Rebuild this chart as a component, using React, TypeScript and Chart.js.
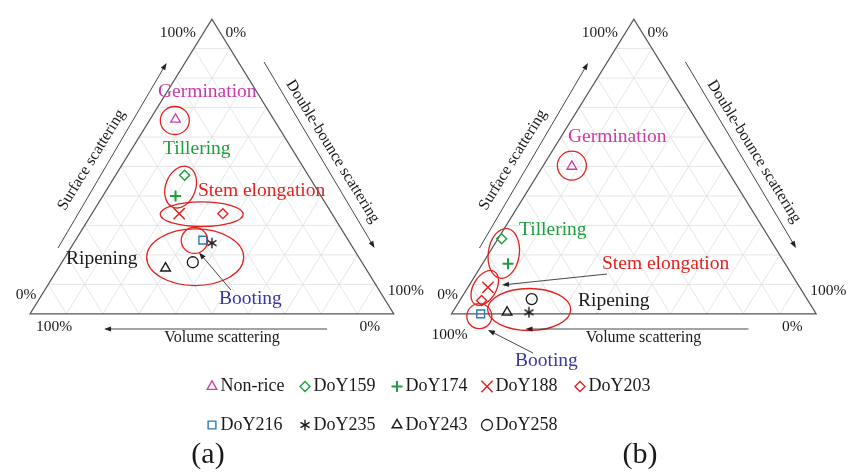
import React, { useEffect, useRef } from 'react';
import { Chart, registerables } from 'chart.js';
import { drawPoint } from 'chart.js/helpers';

Chart.register(...registerables);

// Series shown in both ternary diagrams
const SERIES = ['Non-rice', 'DoY159', 'DoY174', 'DoY188', 'DoY203', 'DoY216', 'DoY235', 'DoY243', 'DoY258'];

// Panel (a): scattering power fractions in percent
const SURFACE_A = [66, 47, 40, 34, 34, 25, 24, 15.5, 17.5];
const DOUBLE_A = [7, 19, 20, 24, 36, 35, 38, 29.5, 36];
const VOLUME_A = [27, 34, 40, 42, 30, 40, 38, 55, 46.5];

// Panel (b): scattering power fractions in percent
const SURFACE_B = [50, 25.5, 17, 9, 4.5, 0, 0.5, 0.5, 5];
const DOUBLE_B = [8, 1, 7, 5.5, 6, 8, 21, 15, 19.5];
const VOLUME_B = [42, 73.5, 76, 85.5, 89.5, 92, 78.5, 84.5, 75.5];

const CORNER_TICKS = ['0%', '100%'];
const AXIS_NAMES = ['Surface scattering', 'Double-bounce scattering', 'Volume scattering'];
const PANEL_TAGS = ['(a)', '(b)'];

const MAGENTA = '#c83ca8';
const GREEN = '#1e9e3e';
const RED = '#e3211f';
const BLUE = '#2d78b8';
const BLACK = '#1a1a1a';
const BOOT_TEXT = '#3a36a0';
const SERIF = '"Liberation Serif", "DejaVu Serif", serif';

const W = 857;
const H = 476;
const BASE = 317; // pixel row of the triangle base
const APEX = 10; // pixel row of the apex
const FRAME_A = { left: 21, right: 393 };
const FRAME_B = { left: 452, right: 825 };

type Style = { style: any; radius: number; color: string; width: number };

function makeAsterisk(color: string): HTMLCanvasElement {
  const c = document.createElement('canvas');
  c.width = 12;
  c.height = 12;
  const g = c.getContext('2d')!;
  g.strokeStyle = color;
  g.lineWidth = 1.4;
  g.lineCap = 'butt';
  const r = 5.2;
  for (const a of [90, 30, 150]) {
    const rad = (a * Math.PI) / 180;
    g.beginPath();
    g.moveTo(6 - Math.cos(rad) * r, 6 - Math.sin(rad) * r);
    g.lineTo(6 + Math.cos(rad) * r, 6 + Math.sin(rad) * r);
    g.stroke();
  }
  return c;
}

// Ternary (surface, double, volume) -> cartesian data space of a unit triangle
function toXY(s: number, d: number, v: number) {
  const t = s + d + v;
  return { x: (d + s / 2) / t, y: s / t };
}

// Stage outlines: centre in triangle data space, radii in pixels
const RINGS_A = [
  { x: 0.398, y: 0.656, rx: 14.5, ry: 14, rot: 0 },
  { x: 0.414, y: 0.43, rx: 15, ry: 21.5, rot: 20 },
  { x: 0.472, y: 0.338, rx: 41.5, ry: 12.3, rot: 0 },
  { x: 0.452, y: 0.249, rx: 13.2, ry: 13, rot: 0 },
  { x: 0.454, y: 0.192, rx: 48.5, ry: 28.3, rot: 0 },
];
const RINGS_B = [
  { x: 0.33, y: 0.503, rx: 14.5, ry: 14.5, rot: 0 },
  { x: 0.1434, y: 0.205, rx: 15.5, ry: 25, rot: 8 },
  { x: 0.0912, y: 0.088, rx: 11.5, ry: 19, rot: 30 },
  { x: 0.0764, y: -0.008, rx: 12.5, ry: 12.5, rot: 0 },
  { x: 0.213, y: 0.0147, rx: 41.5, ry: 21, rot: 0 },
];

const STAGES = ['Germination', 'Tillering', 'Stem elongation', 'Ripening', 'Booting'];
const STAGE_COLORS = [MAGENTA, GREEN, RED, BLACK, BOOT_TEXT];
const STAGE_POS_A = [[158, 92], [163, 149], [198, 191], [66, 259], [219, 299]];
const STAGE_POS_B = [[568, 137], [519, 230], [602, 264], [578, 301], [515, 361]];

// Offset of the lower-left "100%" from its corner, per panel
const LOWER_LEFT_TICK = [[24, 13], [-2, 21]];

export default function App() {
  const ref = useRef<HTMLCanvasElement>(null);

  useEffect(() => {
    document.body.style.margin = '0';
    const canvas = ref.current!;
    const asterisk = makeAsterisk(BLACK);

    const styles: Style[] = [
      { style: 'triangle', radius: 5.6, color: MAGENTA, width: 1.3 },
      { style: 'rectRot', radius: 5, color: GREEN, width: 1.4 },
      { style: 'cross', radius: 5.5, color: GREEN, width: 2 },
      { style: 'crossRot', radius: 8, color: RED, width: 1.5 },
      { style: 'rectRot', radius: 5, color: RED, width: 1.4 },
      { style: 'rect', radius: 5.5, color: BLUE, width: 1.4 },
      { style: asterisk, radius: 6, color: BLACK, width: 1.4 },
      { style: 'triangle', radius: 5.6, color: BLACK, width: 1.4 },
      { style: 'circle', radius: 5.5, color: BLACK, width: 1.3 },
    ];

    const panels = [
      { id: 'xa', s: SURFACE_A, d: DOUBLE_A, v: VOLUME_A },
      { id: 'xb', s: SURFACE_B, d: DOUBLE_B, v: VOLUME_B },
    ];

    const datasets: any[] = [];
    panels.forEach((p) => {
      SERIES.forEach((name, i) => {
        const st = styles[i];
        datasets.push({
          label: name,
          xAxisID: p.id,
          yAxisID: 'y',
          data: [toXY(p.s[i], p.d[i], p.v[i])],
          pointStyle: st.style,
          pointRadius: st.radius,
          pointBorderWidth: st.width,
          borderColor: st.color,
          backgroundColor: 'rgba(0,0,0,0)',
          showLine: false,
        });
      });
    });

    const xRange = (f: { left: number; right: number }) => {
      const u = f.right - f.left;
      return { min: -f.left / u, max: (W - f.left) / u };
    };
    const unitY = BASE - APEX;
    const ya = { min: -(H - BASE) / unitY, max: 1 + APEX / unitY };

    const arrow = (ctx: CanvasRenderingContext2D, x1: number, y1: number, x2: number, y2: number, head = 7) => {
      const a = Math.atan2(y2 - y1, x2 - x1);
      ctx.beginPath();
      ctx.moveTo(x1, y1);
      ctx.lineTo(x2 - Math.cos(a) * head * 0.8, y2 - Math.sin(a) * head * 0.8);
      ctx.stroke();
      ctx.beginPath();
      ctx.moveTo(x2, y2);
      ctx.lineTo(x2 - Math.cos(a) * head + Math.sin(a) * 2.6, y2 - Math.sin(a) * head - Math.cos(a) * 2.6);
      ctx.lineTo(x2 - Math.cos(a) * head - Math.sin(a) * 2.6, y2 - Math.sin(a) * head + Math.cos(a) * 2.6);
      ctx.closePath();
      ctx.fill();
    };

    const text = (ctx: CanvasRenderingContext2D, s: string, x: number, y: number, size: number, color: string, align: CanvasTextAlign = 'center', rot = 0) => {
      ctx.save();
      ctx.translate(x, y);
      ctx.rotate(rot);
      ctx.font = `${size}px ${SERIF}`;
      ctx.fillStyle = color;
      ctx.textAlign = align;
      ctx.textBaseline = 'middle';
      ctx.fillText(s, 0, 0);
      ctx.restore();
    };

    const ternaryFrame = {
      id: 'ternaryFrame',
      beforeDatasetsDraw(chart: any) {
        const ctx: CanvasRenderingContext2D = chart.ctx;
        const ys = chart.scales.y;
        ['xa', 'xb'].forEach((id) => {
          const xs = chart.scales[id];
          const P = (x: number, y: number) => [xs.getPixelForValue(x), ys.getPixelForValue(y)];
          const seg = (a: number[], b: number[]) => {
            ctx.beginPath();
            ctx.moveTo(a[0], a[1]);
            ctx.lineTo(b[0], b[1]);
            ctx.stroke();
          };
          ctx.save();
          ctx.strokeStyle = '#e0e0e0';
          ctx.lineWidth = 0.8;
          for (let k = 1; k < 10; k++) {
            const t = k / 10;
            seg(P(t / 2, t), P(1 - t / 2, t));
            seg(P(t, 0), P(t + (1 - t) / 2, 1 - t));
            seg(P(1 - t, 0), P((1 - t) / 2, 1 - t));
          }
          ctx.strokeStyle = '#555';
          ctx.lineWidth = 1.2;
          const a = P(0, 0), b = P(1, 0), c = P(0.5, 1);
          ctx.beginPath();
          ctx.moveTo(a[0], a[1]);
          ctx.lineTo(b[0], b[1]);
          ctx.lineTo(c[0], c[1]);
          ctx.closePath();
          ctx.stroke();
          ctx.restore();
        });
      },
      afterDatasetsDraw(chart: any) {
        const ctx: CanvasRenderingContext2D = chart.ctx;
        const ys = chart.scales.y;
        const [zero, hundred] = CORNER_TICKS;

        [
          { id: 'xa', rings: RINGS_A, pos: STAGE_POS_A },
          { id: 'xb', rings: RINGS_B, pos: STAGE_POS_B },
        ].forEach((p, pi) => {
          const xs = chart.scales[p.id];
          const bl = [xs.getPixelForValue(0), ys.getPixelForValue(0)];
          const br = [xs.getPixelForValue(1), ys.getPixelForValue(0)];
          const ap = [xs.getPixelForValue(0.5), ys.getPixelForValue(1)];
          const side = Math.atan2(ap[1] - bl[1], ap[0] - bl[0]);

          // stage outlines
          ctx.save();
          ctx.strokeStyle = RED;
          ctx.lineWidth = 1.3;
          p.rings.forEach((r) => {
            ctx.beginPath();
            ctx.ellipse(xs.getPixelForValue(r.x), ys.getPixelForValue(r.y), r.rx, r.ry, (r.rot * Math.PI) / 180, 0, Math.PI * 2);
            ctx.stroke();
          });
          ctx.restore();

          // stage names
          STAGES.forEach((s, i) => text(ctx, s, p.pos[i][0], p.pos[i][1], 19.5, STAGE_COLORS[i], 'left'));

          // corner percentages
          const ll = LOWER_LEFT_TICK[pi];
          text(ctx, hundred, ap[0] - 34, ap[1] + 14, 15.5, BLACK);
          text(ctx, zero, ap[0] + 24, ap[1] + 14, 15.5, BLACK);
          text(ctx, zero, bl[0] - 4, bl[1] - 19, 15.5, BLACK);
          text(ctx, hundred, bl[0] + ll[0], bl[1] + ll[1], 15.5, BLACK);
          text(ctx, hundred, br[0] + 12, br[1] - 23, 15.5, BLACK);
          text(ctx, zero, br[0] - 24, br[1] + 13, 15.5, BLACK);

          // axis directions
          ctx.save();
          ctx.strokeStyle = '#333';
          ctx.fillStyle = '#222';
          ctx.lineWidth = 0.9;
          const ox = bl[0];
          arrow(ctx, ox + 28, 248, ox + 136.5, 63);
          arrow(ctx, ox + 234, 62, ox + 344.5, 248);
          arrow(ctx, ox + 297, 329, ox + 74, 329);
          if (pi === 0) {
            arrow(ctx, 231, 290, 199, 252.5);
          } else {
            arrow(ctx, 607, 274, 502, 285);
            arrow(ctx, 533, 353, 488, 330);
          }
          ctx.restore();

          // axis names
          text(ctx, AXIS_NAMES[0], ox + 61.5, 160, 16, BLACK, 'center', side);
          text(ctx, AXIS_NAMES[1], ox + 302.5, 151.5, 16, BLACK, 'center', -side);
          text(ctx, AXIS_NAMES[2], ox + 192, 338, 16, BLACK);

          text(ctx, PANEL_TAGS[pi], pi === 0 ? 208 : 640, 455, 30, BLACK);
        });

        // legend
        const cols = [212, 305, 397, 487, 580];
        const rows = [386.5, 425];
        SERIES.forEach((name, i) => {
          const st = styles[i];
          const cx = cols[i % 5];
          const cy = rows[Math.floor(i / 5)];
          ctx.save();
          ctx.strokeStyle = st.color;
          ctx.fillStyle = 'rgba(0,0,0,0)';
          ctx.lineWidth = st.width;
          drawPoint(ctx, { pointStyle: st.style, radius: st.radius, rotation: 0, borderWidth: st.width } as any, cx, cy);
          ctx.restore();
          text(ctx, name, cx + 8.5, cy, 18, BLACK, 'left');
        });
      },
    };

    const chart = new Chart(canvas, {
      type: 'scatter',
      data: { datasets },
      options: {
        animation: false,
        responsive: false,
        devicePixelRatio: 1,
        layout: { padding: 0 },
        plugins: { legend: { display: false }, tooltip: { enabled: false } },
        events: [],
        scales: {
          xa: { type: 'linear', display: false, bounds: 'data', ...xRange(FRAME_A) },
          xb: { type: 'linear', display: false, bounds: 'data', ...xRange(FRAME_B) },
          y: { type: 'linear', display: false, bounds: 'data', ...ya },
        },
      },
      plugins: [ternaryFrame],
    } as any);

    return () => chart.destroy();
  }, []);

  return (
    <div style={{ width: W, height: H, background: '#fff' }}>
      <canvas ref={ref} width={W} height={H} style={{ display: 'block' }} />
    </div>
  );
}
